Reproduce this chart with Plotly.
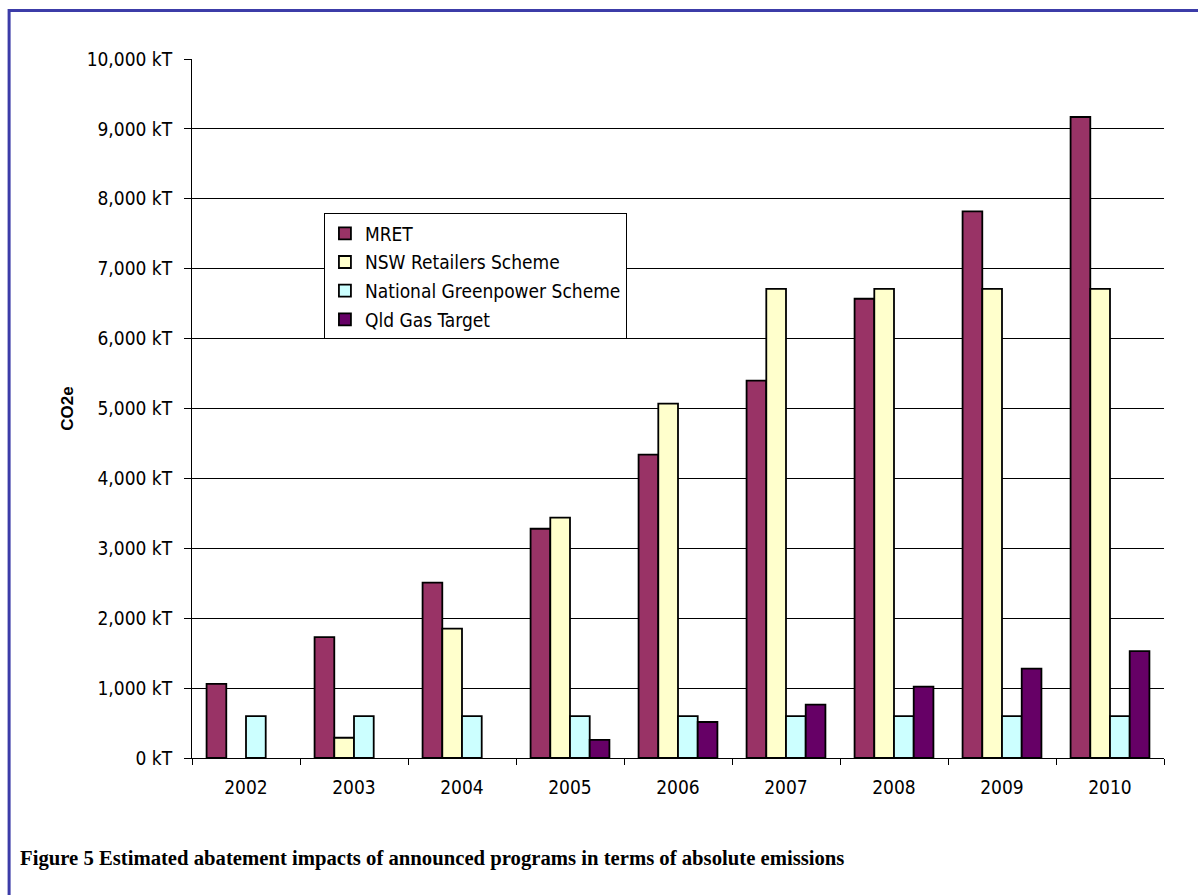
import plotly.graph_objects as go

years = ["2002", "2003", "2004", "2005", "2006", "2007", "2008", "2009", "2010"]
mret = [1060, 1730, 2510, 3280, 4340, 5400, 6570, 7820, 9170]
nsw = [None, 290, 1850, 3440, 5070, 6710, 6710, 6710, 6710]
ngs = [600, 600, 600, 600, 600, 600, 600, 600, 600]
qld = [None, None, None, 260, 515, 765, 1020, 1280, 1530]
series_names = ["MRET", "NSW Retailers Scheme", "National Greenpower Scheme", "Qld Gas Target"]
series_colors = ["#993366", "#FFFFCC", "#CCFFFF", "#660066"]
y_ticks = [0, 1000, 2000, 3000, 4000, 5000, 6000, 7000, 8000, 9000, 10000]
y_tick_labels = ["0 kT", "1,000 kT", "2,000 kT", "3,000 kT", "4,000 kT", "5,000 kT",
                 "6,000 kT", "7,000 kT", "8,000 kT", "9,000 kT", "10,000 kT"]
y_title = "CO2e"
caption = "Figure 5 Estimated abatement impacts of announced programs in terms of absolute emissions"

W, H = 1198, 895
L, R, T, B = 192, 1164.5, 58.5, 757.7

def px(x):
    return (x - L) / (R - L)

def py(y):
    return (B - y) / (B - T)

fig = go.Figure()
for i, (name, vals, col) in enumerate(zip(series_names, [mret, nsw, ngs, qld], series_colors)):
    fig.add_trace(go.Bar(
        x=years, y=vals, name=name, legendgroup="g%d" % i,
        marker=dict(color=col, line=dict(color="#000000", width=1.8)),
    ))

sans = "DejaVu Sans Condensed, DejaVu Sans, sans-serif"
font_ticks = dict(family=sans, size=19, color="#000000")

fig.update_layout(
    width=W, height=H,
    margin=dict(l=L, r=W - R, t=T, b=H - B, pad=0),
    paper_bgcolor="white", plot_bgcolor="white",
    barmode="group", bargap=0.27, bargroupgap=0,
    showlegend=True,
    legend=dict(
        x=px(324), y=py(213), xanchor="left", yanchor="top",
        bgcolor="white", bordercolor="#000000", borderwidth=1,
        font=dict(family=sans, size=19, color="#000000"),
        tracegroupgap=1, itemwidth=30,
    ),
    xaxis=dict(
        type="category", showgrid=False, showline=True, linecolor="#000000", linewidth=1,
        ticks="outside", ticklen=6, tickcolor="#000000", tickson="boundaries",
        tickfont=font_ticks, zeroline=False, ticklabelstandoff=12,
    ),
    yaxis=dict(
        range=[0, 10000], tickvals=y_ticks, ticktext=y_tick_labels,
        showgrid=True, gridcolor="#000000", gridwidth=1,
        showline=True, linecolor="#000000", linewidth=1,
        ticks="outside", ticklen=7, tickcolor="#000000",
        tickfont=font_ticks, zeroline=False, ticklabelstandoff=8,
        title=dict(text="<b>" + y_title + "</b>",
                   font=dict(family="Arial, Liberation Sans, sans-serif", size=17, color="#000000"),
                   standoff=8),
    ),
    shapes=[dict(
        type="rect", xref="paper", yref="paper",
        x0=px(9), x1=px(1210), y0=py(910), y1=py(10),
        line=dict(color="#3C3CA8", width=3), fillcolor="rgba(0,0,0,0)", layer="above",
    )],
    annotations=[dict(
        text="<b>" + caption + "</b>", xref="paper", yref="paper",
        x=px(18), y=py(858), xanchor="left", yanchor="middle", showarrow=False,
        font=dict(family="Times New Roman, Liberation Serif, serif", size=20.7, color="#000000"),
    )],
)

fig.write_html("out.html")
